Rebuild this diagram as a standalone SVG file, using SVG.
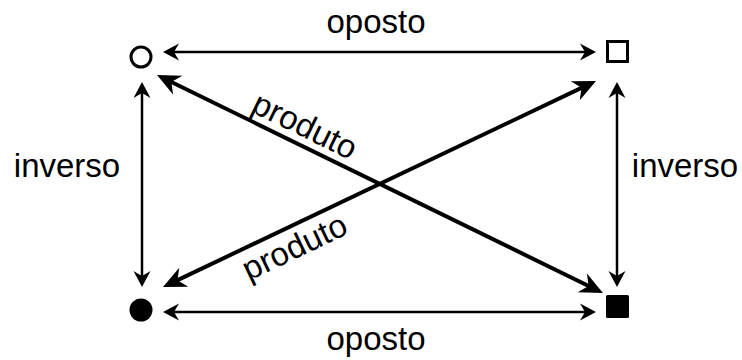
<svg xmlns="http://www.w3.org/2000/svg" width="742" height="360" viewBox="0 0 742 360">
<style>
  .lbl { font-family: "Liberation Sans", Arial, sans-serif; font-size: 33px; fill: #000; }
  .thin { stroke: #000; stroke-width: 2.5; fill: none; marker-start: url(#sm); marker-end: url(#sm); }
  .thick { stroke: #000; stroke-width: 4; fill: none; marker-start: url(#lg); marker-end: url(#lg); }
</style>
<defs>
  <marker id="sm" markerUnits="userSpaceOnUse" orient="auto-start-reverse" refX="-6" refY="0" markerWidth="40" markerHeight="40" viewBox="-20 -20 40 40" overflow="visible">
    <path d="M0,0 L-16,-8.5 L-11,0 L-16,8.5 Z" fill="#000"/>
  </marker>
  <marker id="lg" markerUnits="userSpaceOnUse" orient="auto-start-reverse" refX="-8" refY="0" markerWidth="50" markerHeight="50" viewBox="-25 -25 50 50" overflow="visible">
    <path d="M0,0 L-23,-10.5 L-16,0 L-23,10.5 Z" fill="#000"/>
  </marker>
</defs>
<rect width="742" height="360" fill="#fff"/>
<g id="connectors">
  <line class="thin" x1="169" y1="52" x2="590" y2="52"/>
  <line class="thin" x1="169" y1="312" x2="590" y2="312"/>
  <line class="thin" x1="142" y1="88" x2="142" y2="281"/>
  <line class="thin" x1="617" y1="88" x2="617" y2="281"/>
  <line class="thick" x1="164.2" y1="78.5" x2="595.8" y2="289.5"/>
  <line class="thick" x1="170.2" y1="283.6" x2="588.8" y2="84.4"/>
</g>
<g id="labels">
  <text class="lbl" x="376" y="33" text-anchor="middle">oposto</text>
  <text class="lbl" x="376" y="350" text-anchor="middle">oposto</text>
  <text class="lbl" x="67" y="177" text-anchor="middle">inverso</text>
  <text class="lbl" x="685" y="177" text-anchor="middle">inverso</text>
  <text class="lbl" text-anchor="middle" transform="translate(297,142) rotate(26)" y="-7">produto</text>
  <text class="lbl" text-anchor="middle" transform="translate(286,229) rotate(-25.5)" y="31">produto</text>
</g>
<g id="node-open-circle"><circle cx="141" cy="57" r="10" fill="none" stroke="#000" stroke-width="3"/></g>
<g id="node-open-square"><rect x="607.5" y="41.5" width="20" height="20" fill="none" stroke="#000" stroke-width="3"/></g>
<g id="node-filled-circle"><circle cx="141" cy="310" r="11.5" fill="#000"/></g>
<g id="node-filled-square"><rect x="606" y="295" width="23" height="23" rx="1.5" fill="#000"/></g>
</svg>
